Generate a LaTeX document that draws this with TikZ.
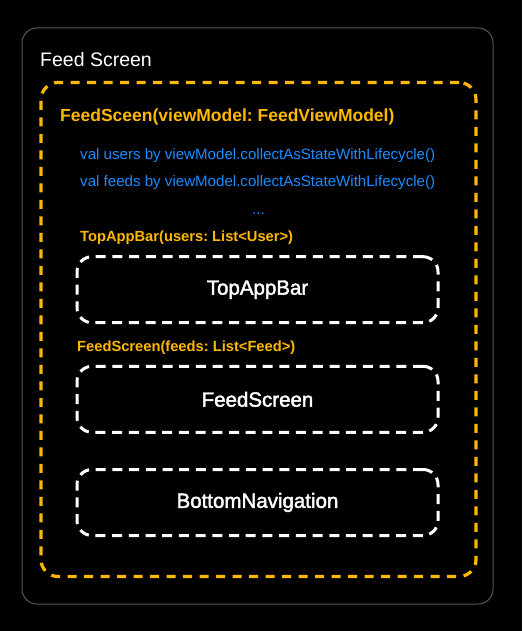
\documentclass[tikz,border=0pt]{standalone}
\usepackage{fontspec}
\setmainfont{Liberation Sans}
\newfontfamily\semibfont[FakeBold=2]{Liberation Sans}
\definecolor{codeorange}{HTML}{FFB800}
\definecolor{codeblue}{HTML}{1A8CFF}
\definecolor{framegray}{HTML}{5A5A5A}
\tikzset{
  outerframe/.style={draw=framegray, line width=1pt, rounded corners=15pt, inner sep=0pt},
  scopeframe/.style={draw=codeorange, line width=3.2pt, dash pattern=on 9pt off 7.5pt, rounded corners=17pt, inner sep=0pt},
  uibox/.style={draw=white, line width=3pt, dash pattern=on 10pt off 6.7pt, rounded corners=15pt, inner sep=0pt,
    minimum width=361pt, minimum height=66pt, text=white, font=\semibfont\fontsize{20.5}{24}\selectfont},
  titletext/.style={anchor=base west, inner sep=0pt, text=white, font=\fontsize{19.5}{23}\selectfont},
  funtext/.style={anchor=base west, inner sep=0pt, text=codeorange, font=\bfseries\fontsize{17.5}{21}\selectfont},
  calltext/.style={anchor=base west, inner sep=0pt, text=codeorange, font=\bfseries\fontsize{14.7}{18}\selectfont},
  codetext/.style={anchor=base west, inner sep=0pt, text=codeblue, font=\fontsize{15.1}{18}\selectfont},
}
\frenchspacing
\begin{document}
\begin{tikzpicture}[x=1pt,y=-1pt]
\useasboundingbox[fill=black] (0,0) rectangle (522,631);
\node[outerframe, minimum width=471pt, minimum height=576pt] (outer) at (257.5,316) {};
\node[scopeframe, minimum width=435pt, minimum height=494pt] (scope) at (258.5,329.5) {};
\node[titletext] (title) at (40,66.7) {Feed Screen};
\node[funtext] (fun) at (60,121.7) {FeedSceen(viewModel: FeedViewModel)};
\node[codetext] (users) at (80,159.7) {val users by viewModel.collectAsStateWithLifecycle()};
\node[codetext] (feeds) at (80,186.3) {val feeds by viewModel.collectAsStateWithLifecycle()};
\node[anchor=base, inner sep=0pt, text=codeblue, font=\fontsize{15}{18}\selectfont] (dots) at (258.5,214) {...};
\node[calltext] (topcall) at (80,241.7) {TopAppBar(users: List<User>)};
\node[uibox] (topbar) at (257.5,289.7) {TopAppBar};
\node[calltext] (feedcall) at (77,351) {FeedScreen(feeds: List<Feed>)};
\node[uibox] (feedbox) at (257.5,399.3) {FeedScreen};
\node[uibox] (bottomnav) at (257.5,502.5) {BottomNavigation};
\end{tikzpicture}
\end{document}
